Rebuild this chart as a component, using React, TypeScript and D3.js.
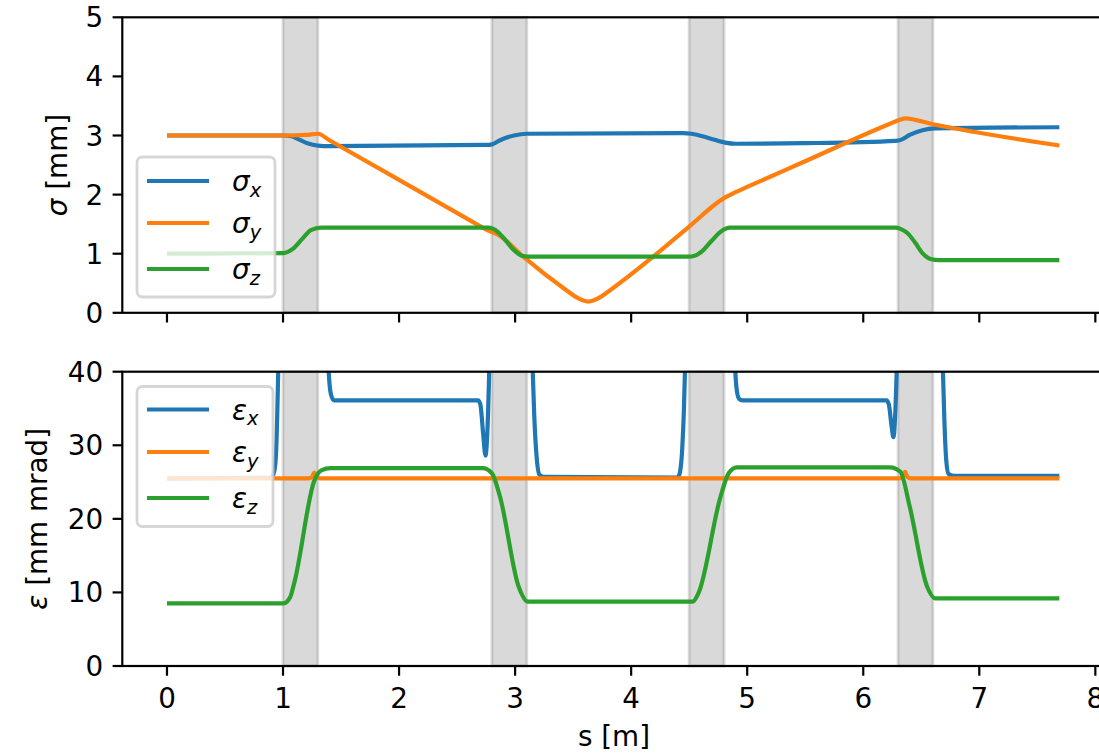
import React from "react";
import * as d3 from "d3";

// shaded element positions along s [m]
const bands: [number, number][] = [
  [1.0, 1.3],
  [2.8, 3.1],
  [4.5, 4.8],
  [6.3, 6.6],
];

const sTicks = [0, 1, 2, 3, 4, 5, 6, 7, 8];
const sigmaTicks = [0, 1, 2, 3, 4, 5];
const epsTicks = [0, 10, 20, 30, 40];

// beam sizes [mm] as (s, value)
const sigmaX: [number, number][] = [
  [0, 3.0], [1.0, 3.0], [1.07, 2.99], [1.14, 2.93], [1.21, 2.87], [1.3, 2.83], [1.4, 2.82],
  [2.75, 2.84], [2.8, 2.85], [2.87, 2.92], [2.99, 3.0], [3.1, 3.03], [4.45, 3.04],
  [4.52, 3.03], [4.68, 2.95], [4.81, 2.88], [4.9, 2.86], [5.5, 2.87], [6.28, 2.91],
  [6.33, 2.93], [6.4, 3.01], [6.51, 3.09], [6.62, 3.12], [7.69, 3.14],
];
const sigmaY: [number, number][] = [
  [0, 3.0], [1.0, 3.0], [1.2, 3.01], [1.3, 3.03], [1.4, 2.92], [2.66, 1.51], [2.76, 1.4],
  [2.87, 1.3], [3.07, 0.95], [3.45, 0.37], [3.53, 0.26], [3.63, 0.19], [3.73, 0.26],
  [3.81, 0.37], [4.19, 0.95], [4.5, 1.46], [4.8, 1.94], [4.91, 2.05], [5.0, 2.13],
  [5.46, 2.53], [6.22, 3.19], [6.32, 3.27], [6.36, 3.29], [6.6, 3.19], [7.69, 2.83],
];
const sigmaZ: [number, number][] = [
  [0, 1.0], [1.0, 1.01], [1.09, 1.09], [1.17, 1.26], [1.24, 1.4], [1.33, 1.44], [2.77, 1.44],
  [2.85, 1.37], [2.92, 1.22], [2.99, 1.06], [3.07, 0.96], [3.15, 0.95], [4.5, 0.95],
  [4.54, 0.96], [4.61, 1.04], [4.69, 1.21], [4.77, 1.37], [4.85, 1.44], [6.28, 1.44],
  [6.32, 1.42], [6.38, 1.35], [6.45, 1.18], [6.51, 1.01], [6.58, 0.91], [6.65, 0.89],
  [7.69, 0.89],
];

// emittances [mm mrad] as (s, value); values above 40 are clipped by the axes
const epsX: [number, number][] = [
  [0, 25.5], [0.9, 25.6], [0.925, 26.5], [0.94, 29], [0.95, 34], [0.96, 41], [0.975, 50],
  [1.37, 50], [1.39, 41], [1.4, 38.5], [1.415, 36.8], [1.44, 36.1], [2.68, 36.1],
  [2.7, 35.6], [2.725, 31.5], [2.745, 28.6], [2.76, 31.5], [2.775, 39], [2.79, 50],
  [3.13, 50], [3.15, 41], [3.165, 34], [3.185, 28.5], [3.21, 26], [3.25, 25.7], [4.4, 25.6],
  [4.42, 26.3], [4.44, 29.5], [4.455, 35], [4.465, 41], [4.48, 50], [4.88, 50],
  [4.895, 41], [4.91, 37.5], [4.93, 36.3], [4.96, 36.1], [6.2, 36.1], [6.22, 35.6],
  [6.245, 32.5], [6.26, 31.1], [6.275, 34], [6.29, 41], [6.305, 50], [6.66, 50],
  [6.685, 41], [6.7, 33], [6.715, 28], [6.735, 26.1], [6.78, 25.85], [7.69, 25.85],
];
const epsY: [number, number][] = [
  [0, 25.5], [1.22, 25.5], [1.25, 25.7], [1.27, 26.3], [1.29, 25.7], [1.32, 25.5],
  [6.31, 25.5], [6.34, 25.7], [6.36, 26.4], [6.38, 25.7], [6.41, 25.5], [7.69, 25.5],
];
const epsZ: [number, number][] = [
  [0, 8.5], [1.0, 8.5], [1.06, 9.3], [1.1, 11.5], [1.27, 25.2], [1.33, 26.6], [1.41, 26.9],
  [2.72, 26.9], [2.8, 26.2], [2.87, 23.0], [3.03, 10.8], [3.11, 8.75], [4.53, 8.75],
  [4.58, 9.9], [4.77, 23.0], [4.84, 26.2], [4.91, 27.0], [6.23, 27.0], [6.32, 26.4],
  [6.4, 21.7], [6.55, 10.8], [6.62, 9.2], [7.69, 9.2],
];

const colors = ["#1f77b4", "#ff7f0e", "#2ca02c"];
const subs = ["x", "y", "z"];

const FONT = "DejaVu Sans, sans-serif";
const FS = 27.8;
const TICK = 9.7;
const SPINE = 2.2;

const x = d3.scaleLinear().domain([-0.385, 8.085]).range([122.3, 1105.2]);

type PanelProps = {
  id: string;
  y: d3.ScaleLinear<number, number>;
  yTicks: number[];
  series: [number, number][][];
  sym: string;
  unit: string;
  labelX: number;
  legend: { x: number; y: number; w: number; h: number; rows: number[] };
  showXLabels: boolean;
};

function Panel({ id, y, yTicks, series, sym, unit, labelX, legend, showXLabels }: PanelProps) {
  const [x0, x1] = x.range();
  const [yb, yt] = y.range();
  const line = d3
    .line<[number, number]>()
    .x((d) => x(d[0]))
    .y((d) => y(d[1]))
    .curve(d3.curveMonotoneX);

  return (
    <g fontFamily={FONT} fontSize={FS}>
      <defs>
        <clipPath id={id}>
          <rect x={x0} y={yt} width={x1 - x0} height={yb - yt} />
        </clipPath>
      </defs>
      {/* shaded elements */}
      {bands.map(([a, b], i) => (
        <rect
          key={i}
          x={x(a)}
          y={yt}
          width={x(b) - x(a)}
          height={yb - yt}
          fill="gray"
          fillOpacity={0.3}
          stroke="gray"
          strokeOpacity={0.3}
          strokeWidth={2.8}
        />
      ))}
      {/* curves */}
      <g clipPath={`url(#${id})`}>
        {series.map((d, i) => (
          <path key={i} d={line(d) || ""} fill="none" stroke={colors[i]} strokeWidth={4.2} strokeLinejoin="round" />
        ))}
      </g>
      {/* spines */}
      <rect x={x0} y={yt} width={x1 - x0} height={yb - yt} fill="none" stroke="#000" strokeWidth={SPINE} />
      {/* y ticks */}
      {yTicks.map((t) => (
        <g key={t}>
          <line x1={x0 - TICK} x2={x0} y1={y(t)} y2={y(t)} stroke="#000" strokeWidth={SPINE} />
          <text x={x0 - TICK - 9.5} y={y(t) + 10} textAnchor="end">
            {t}
          </text>
        </g>
      ))}
      {/* x ticks */}
      {sTicks.map((t) => (
        <g key={t}>
          <line x1={x(t)} x2={x(t)} y1={yb} y2={yb + TICK} stroke="#000" strokeWidth={SPINE} />
          {showXLabels && (
            <text x={x(t)} y={708} textAnchor="middle">
              {t}
            </text>
          )}
        </g>
      ))}
      {/* y label */}
      <text transform={`translate(${labelX},${(yb + yt) / 2}) rotate(-90)`} textAnchor="middle" dy="0.35em">
        <tspan fontStyle="italic">{sym}</tspan>
        <tspan>{` [${unit}]`}</tspan>
      </text>
      {/* legend */}
      <rect
        x={legend.x}
        y={legend.y}
        width={legend.w}
        height={legend.h}
        rx={5.5}
        fill="#fff"
        fillOpacity={0.8}
        stroke="#cccccc"
        strokeOpacity={0.8}
        strokeWidth={2.8}
      />
      {legend.rows.map((ry, i) => (
        <g key={i}>
          <line x1={legend.x + 10} x2={legend.x + 72} y1={ry} y2={ry} stroke={colors[i]} strokeWidth={4.2} />
          <text x={legend.x + 95} y={ry + 10}>
            <tspan fontStyle="italic">{sym}</tspan>
            <tspan fontStyle="italic" fontSize={FS * 0.7} dy={5.5}>
              {subs[i]}
            </tspan>
          </text>
        </g>
      ))}
    </g>
  );
}

export default function App() {
  const yTop = d3.scaleLinear().domain([0, 5]).range([312.8, 17.3]);
  const yBot = d3.scaleLinear().domain([0, 40]).range([666, 371.7]);

  return (
    <svg
      width={1099}
      height={753}
      style={{ position: "absolute", left: 0, top: 0, background: "#fff" }}
    >
      <Panel
        id="clipSigma"
        y={yTop}
        yTicks={sigmaTicks}
        series={[sigmaX, sigmaY, sigmaZ]}
        sym="σ"
        unit="mm"
        labelX={57}
        legend={{ x: 137, y: 157, w: 138, h: 140, rows: [181, 223, 269] }}
        showXLabels={false}
      />
      <Panel
        id="clipEps"
        y={yBot}
        yTicks={epsTicks}
        series={[epsX, epsY, epsZ]}
        sym="ε"
        unit="mm mrad"
        labelX={37}
        legend={{ x: 137, y: 386.5, w: 136, h: 140, rows: [409.5, 452, 498] }}
        showXLabels={true}
      />
      <text x={614} y={746} textAnchor="middle" fontFamily={FONT} fontSize={FS}>
        s [m]
      </text>
    </svg>
  );
}
